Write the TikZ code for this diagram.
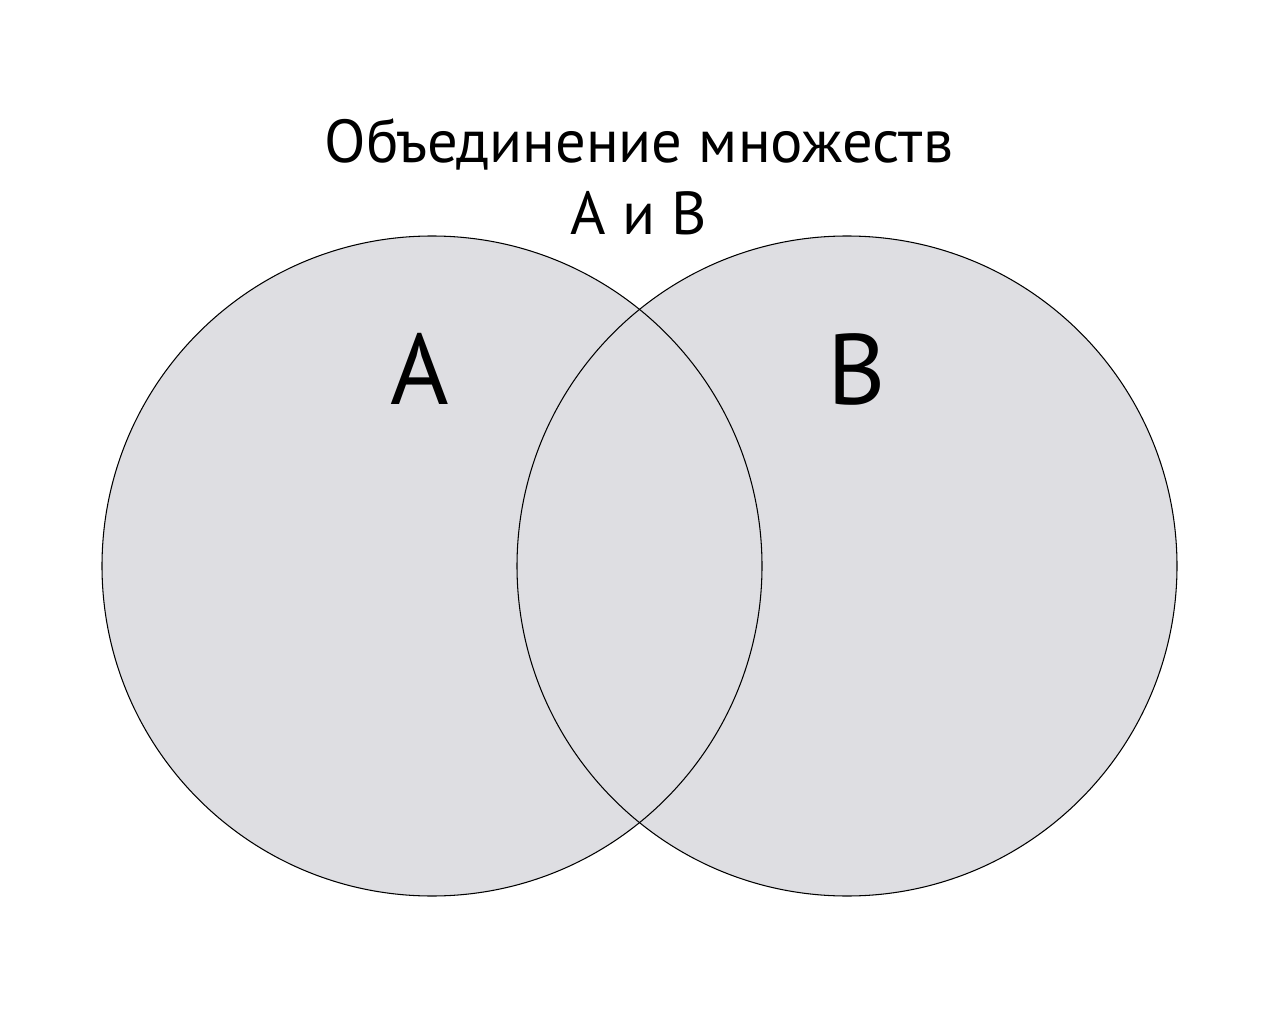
\documentclass[tikz,border=0pt]{standalone}
\usepackage{fontspec}
\setmainfont{PT Sans}
\definecolor{setgray}{RGB}{222,222,226}
\begin{document}
\begin{tikzpicture}[
    setdisc/.style={circle,minimum size=13.2cm,inner sep=0pt,fill=setgray},
    setname/.style={anchor=base,font=\fontsize{57}{60}\selectfont},
    heading/.style={anchor=base,font=\fontsize{34.5}{40}\selectfont}]

\useasboundingbox (0,0) rectangle (25.6,20.48);

% Both sets, filled first so no outline is covered
\node[setdisc] (setA) at (8.64,9.16) {};
\node[setdisc] (setB) at (16.94,9.16) {};

% Outlines on top
\foreach \s in {setA,setB} {
    \draw[line width=0.6pt] (\s.center) circle (6.6);
}

% Set names
\node[setname] (nameA) at (8.4,12.38) {A};
\node[setname] (nameB) at (17.14,12.38) {B};

% Heading
\node[heading] (head) at (12.78,17.22) {Объединение множеств};
\node[heading] (headAB) at (12.78,15.78) {А и В};

\end{tikzpicture}
\end{document}
